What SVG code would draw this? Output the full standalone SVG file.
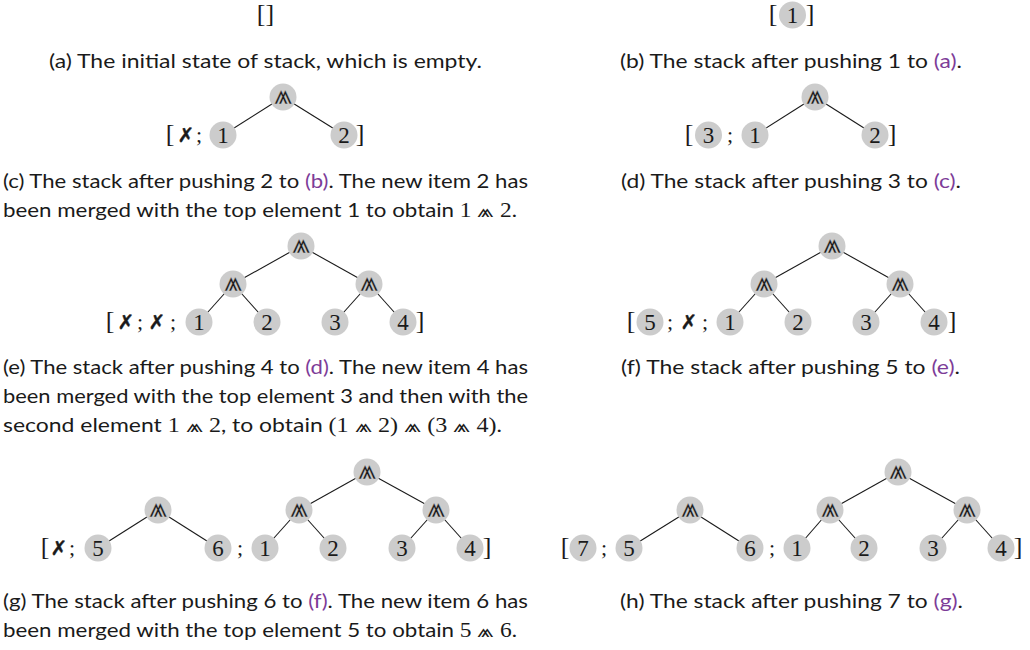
<svg xmlns="http://www.w3.org/2000/svg" width="1030" height="650" viewBox="0 0 1030 650">
<style>
.cap{font-family:Lato,"Noto Sans",sans-serif;font-size:20px;fill:#1a1a1a}
.ref{fill:#7d3c98}
.m{font-family:"Liberation Serif",serif;font-size:21px}
.op{font-family:"DejaVu Sans","DejaVu Serif",sans-serif;font-size:19px}
.nd circle{fill:#cccccc}
.num{font-family:"Liberation Serif",serif;font-size:23px;text-anchor:middle;fill:#1a1a1a}
.mg{font-family:"DejaVu Sans","DejaVu Serif",sans-serif;font-size:23px;text-anchor:middle;fill:#1a1a1a;stroke:#cccccc;stroke-width:0.25}
.br{font-family:"Liberation Serif",serif;font-size:26px;text-anchor:middle;fill:#1a1a1a}
.sc{font-family:"Liberation Serif",serif;font-size:22px;text-anchor:middle;fill:#1a1a1a}
.x{font-family:"DejaVu Sans",sans-serif;font-size:20px;text-anchor:middle;fill:#1a1a1a;stroke:#1a1a1a;stroke-width:0.4}
.edges line{stroke:#1a1a1a;stroke-width:1.1}
</style>
<defs>
  <circle id="dot" r="13.5"/>
</defs>
<rect width="1030" height="650" fill="#ffffff"/>

<!-- connectors -->
<g id="connectors" class="edges">
  <line x1="283" y1="97" x2="223" y2="135"/><line x1="283" y1="97" x2="344" y2="135"/>
  <line x1="815" y1="97" x2="755" y2="135"/><line x1="815" y1="97" x2="875" y2="135"/>
  <line x1="301" y1="246" x2="233" y2="284"/><line x1="301" y1="246" x2="369" y2="284"/>
  <line x1="233" y1="284" x2="199" y2="322"/><line x1="233" y1="284" x2="267" y2="322"/>
  <line x1="369" y1="284" x2="335" y2="322"/><line x1="369" y1="284" x2="403" y2="322"/>
  <line x1="832" y1="246" x2="764" y2="284"/><line x1="832" y1="246" x2="900" y2="284"/>
  <line x1="764" y1="284" x2="730" y2="322"/><line x1="764" y1="284" x2="798" y2="322"/>
  <line x1="900" y1="284" x2="866" y2="322"/><line x1="900" y1="284" x2="934" y2="322"/>
  <line x1="158" y1="510" x2="98" y2="548"/><line x1="158" y1="510" x2="218" y2="548"/>
  <line x1="367" y1="472" x2="299" y2="510"/><line x1="367" y1="472" x2="436" y2="510"/>
  <line x1="299" y1="510" x2="265" y2="548"/><line x1="299" y1="510" x2="333" y2="548"/>
  <line x1="436" y1="510" x2="402" y2="548"/><line x1="436" y1="510" x2="470" y2="548"/>
  <line x1="690" y1="510" x2="629" y2="548"/><line x1="690" y1="510" x2="750" y2="548"/>
  <line x1="898" y1="472" x2="830" y2="510"/><line x1="898" y1="472" x2="967" y2="510"/>
  <line x1="830" y1="510" x2="797" y2="548"/><line x1="830" y1="510" x2="864" y2="548"/>
  <line x1="967" y1="510" x2="933" y2="548"/><line x1="967" y1="510" x2="1001" y2="548"/>
</g>

<!-- (a) -->
<g id="a-stack"><text class="br" x="265.5" y="22">[]</text></g>
<text class="cap" x="265.5" y="68" text-anchor="middle" textLength="433" lengthAdjust="spacingAndGlyphs">(a) The initial state of stack, which is empty.</text>

<!-- (b) -->
<g id="b-stack">
  <text class="br" x="773" y="22">[</text>
  <text class="br" x="810" y="22">]</text>
</g>
<g id="b-n1" class="nd"><use href="#dot" x="792.5" y="15" fill="#cccccc"/><text class="num" x="792.5" y="23">1</text></g>
<text class="cap" x="620" y="68" textLength="342" lengthAdjust="spacingAndGlyphs">(b) The stack after pushing 1 to <tspan class="ref">(a)</tspan>.</text>

<!-- (c) -->
<g id="c-stack">
  <text class="br" x="170" y="142">[</text>
  <text class="x" x="186" y="142">✗</text>
  <text class="sc" x="199" y="142">;</text>
  <text class="br" x="360" y="142">]</text>
</g>
<g id="c-root" class="nd"><use href="#dot" x="283" y="97" fill="#cccccc"/><text class="mg" transform="translate(283 97) scale(1 1.33)" y="5.2">⩕</text></g>
<g id="c-n1" class="nd"><use href="#dot" x="223" y="135" fill="#cccccc"/><text class="num" x="223" y="143">1</text></g>
<g id="c-n2" class="nd"><use href="#dot" x="344" y="135" fill="#cccccc"/><text class="num" x="344" y="143">2</text></g>
<text class="cap" x="3" y="188" textLength="525" lengthAdjust="spacingAndGlyphs">(c) The stack after pushing 2 to <tspan class="ref">(b)</tspan>. The new item 2 has</text>
<text class="cap" x="3" y="217" textLength="514" lengthAdjust="spacingAndGlyphs">been merged with the top element 1 to obtain <tspan class="m">1 <tspan class="op">⩕</tspan> 2</tspan>.</text>

<!-- (d) -->
<g id="d-stack">
  <text class="br" x="689" y="142">[</text>
  <text class="sc" x="730" y="142">;</text>
  <text class="br" x="892" y="142">]</text>
</g>
<g id="d-n3" class="nd"><use href="#dot" x="708.5" y="135" fill="#cccccc"/><text class="num" x="708.5" y="143">3</text></g>
<g id="d-root" class="nd"><use href="#dot" x="815" y="97" fill="#cccccc"/><text class="mg" transform="translate(815 97) scale(1 1.33)" y="5.2">⩕</text></g>
<g id="d-n1" class="nd"><use href="#dot" x="755" y="135" fill="#cccccc"/><text class="num" x="755" y="143">1</text></g>
<g id="d-n2" class="nd"><use href="#dot" x="875" y="135" fill="#cccccc"/><text class="num" x="875" y="143">2</text></g>
<text class="cap" x="621" y="188" textLength="340" lengthAdjust="spacingAndGlyphs">(d) The stack after pushing 3 to <tspan class="ref">(c)</tspan>.</text>

<!-- (e) -->
<g id="e-stack">
  <text class="br" x="110" y="329">[</text>
  <text class="x" x="126" y="329">✗</text>
  <text class="sc" x="140" y="329">;</text>
  <text class="x" x="157" y="329">✗</text>
  <text class="sc" x="173" y="329">;</text>
  <text class="br" x="420" y="329">]</text>
</g>
<g id="e-root" class="nd"><use href="#dot" x="301" y="246" fill="#cccccc"/><text class="mg" transform="translate(301 246) scale(1 1.33)" y="5.2">⩕</text></g>
<g id="e-m12" class="nd"><use href="#dot" x="233" y="284" fill="#cccccc"/><text class="mg" transform="translate(233 284) scale(1 1.33)" y="5.2">⩕</text></g>
<g id="e-m34" class="nd"><use href="#dot" x="369" y="284" fill="#cccccc"/><text class="mg" transform="translate(369 284) scale(1 1.33)" y="5.2">⩕</text></g>
<g id="e-n1" class="nd"><use href="#dot" x="199" y="322" fill="#cccccc"/><text class="num" x="199" y="330">1</text></g>
<g id="e-n2" class="nd"><use href="#dot" x="267" y="322" fill="#cccccc"/><text class="num" x="267" y="330">2</text></g>
<g id="e-n3" class="nd"><use href="#dot" x="335" y="322" fill="#cccccc"/><text class="num" x="335" y="330">3</text></g>
<g id="e-n4" class="nd"><use href="#dot" x="403" y="322" fill="#cccccc"/><text class="num" x="403" y="330">4</text></g>
<text class="cap" x="3" y="374" textLength="525" lengthAdjust="spacingAndGlyphs">(e) The stack after pushing 4 to <tspan class="ref">(d)</tspan>. The new item 4 has</text>
<text class="cap" x="3" y="403" textLength="525" lengthAdjust="spacingAndGlyphs">been merged with the top element 3 and then with the</text>
<text class="cap" x="3" y="432" textLength="499" lengthAdjust="spacingAndGlyphs">second element <tspan class="m">1 <tspan class="op">⩕</tspan> 2</tspan>, to obtain <tspan class="m">(1 <tspan class="op">⩕</tspan> 2) <tspan class="op">⩕</tspan> (3 <tspan class="op">⩕</tspan> 4)</tspan>.</text>

<!-- (f) -->
<g id="f-stack">
  <text class="br" x="631" y="329">[</text>
  <text class="sc" x="670" y="329">;</text>
  <text class="x" x="689" y="329">✗</text>
  <text class="sc" x="705" y="329">;</text>
  <text class="br" x="952" y="329">]</text>
</g>
<g id="f-n5" class="nd"><use href="#dot" x="650" y="322" fill="#cccccc"/><text class="num" x="650" y="330">5</text></g>
<g id="f-root" class="nd"><use href="#dot" x="832" y="246" fill="#cccccc"/><text class="mg" transform="translate(832 246) scale(1 1.33)" y="5.2">⩕</text></g>
<g id="f-m12" class="nd"><use href="#dot" x="764" y="284" fill="#cccccc"/><text class="mg" transform="translate(764 284) scale(1 1.33)" y="5.2">⩕</text></g>
<g id="f-m34" class="nd"><use href="#dot" x="900" y="284" fill="#cccccc"/><text class="mg" transform="translate(900 284) scale(1 1.33)" y="5.2">⩕</text></g>
<g id="f-n1" class="nd"><use href="#dot" x="730" y="322" fill="#cccccc"/><text class="num" x="730" y="330">1</text></g>
<g id="f-n2" class="nd"><use href="#dot" x="798" y="322" fill="#cccccc"/><text class="num" x="798" y="330">2</text></g>
<g id="f-n3" class="nd"><use href="#dot" x="866" y="322" fill="#cccccc"/><text class="num" x="866" y="330">3</text></g>
<g id="f-n4" class="nd"><use href="#dot" x="934" y="322" fill="#cccccc"/><text class="num" x="934" y="330">4</text></g>
<text class="cap" x="621" y="374" textLength="339" lengthAdjust="spacingAndGlyphs">(f) The stack after pushing 5 to <tspan class="ref">(e)</tspan>.</text>

<!-- (g) -->
<g id="g-stack">
  <text class="br" x="45" y="555">[</text>
  <text class="x" x="59" y="555">✗</text>
  <text class="sc" x="72" y="555">;</text>
  <text class="sc" x="240" y="555">;</text>
  <text class="br" x="487" y="555">]</text>
</g>
<g id="g-m56" class="nd"><use href="#dot" x="158" y="510" fill="#cccccc"/><text class="mg" transform="translate(158 510) scale(1 1.33)" y="5.2">⩕</text></g>
<g id="g-n5" class="nd"><use href="#dot" x="98" y="548" fill="#cccccc"/><text class="num" x="98" y="556">5</text></g>
<g id="g-n6" class="nd"><use href="#dot" x="218" y="548" fill="#cccccc"/><text class="num" x="218" y="556">6</text></g>
<g id="g-root" class="nd"><use href="#dot" x="367" y="472" fill="#cccccc"/><text class="mg" transform="translate(367 472) scale(1 1.33)" y="5.2">⩕</text></g>
<g id="g-m12" class="nd"><use href="#dot" x="299" y="510" fill="#cccccc"/><text class="mg" transform="translate(299 510) scale(1 1.33)" y="5.2">⩕</text></g>
<g id="g-m34" class="nd"><use href="#dot" x="436" y="510" fill="#cccccc"/><text class="mg" transform="translate(436 510) scale(1 1.33)" y="5.2">⩕</text></g>
<g id="g-n1" class="nd"><use href="#dot" x="265" y="548" fill="#cccccc"/><text class="num" x="265" y="556">1</text></g>
<g id="g-n2" class="nd"><use href="#dot" x="333" y="548" fill="#cccccc"/><text class="num" x="333" y="556">2</text></g>
<g id="g-n3" class="nd"><use href="#dot" x="402" y="548" fill="#cccccc"/><text class="num" x="402" y="556">3</text></g>
<g id="g-n4" class="nd"><use href="#dot" x="470" y="548" fill="#cccccc"/><text class="num" x="470" y="556">4</text></g>
<text class="cap" x="3" y="608" textLength="525" lengthAdjust="spacingAndGlyphs">(g) The stack after pushing 6 to <tspan class="ref">(f)</tspan>. The new item 6 has</text>
<text class="cap" x="3" y="637" textLength="514" lengthAdjust="spacingAndGlyphs">been merged with the top element 5 to obtain <tspan class="m">5 <tspan class="op">⩕</tspan> 6</tspan>.</text>

<!-- (h) -->
<g id="h-stack">
  <text class="br" x="565" y="555">[</text>
  <text class="sc" x="604" y="555">;</text>
  <text class="sc" x="772" y="555">;</text>
  <text class="br" x="1018" y="555">]</text>
</g>
<g id="h-n7" class="nd"><use href="#dot" x="583" y="548" fill="#cccccc"/><text class="num" x="583" y="556">7</text></g>
<g id="h-m56" class="nd"><use href="#dot" x="690" y="510" fill="#cccccc"/><text class="mg" transform="translate(690 510) scale(1 1.33)" y="5.2">⩕</text></g>
<g id="h-n5" class="nd"><use href="#dot" x="629" y="548" fill="#cccccc"/><text class="num" x="629" y="556">5</text></g>
<g id="h-n6" class="nd"><use href="#dot" x="750" y="548" fill="#cccccc"/><text class="num" x="750" y="556">6</text></g>
<g id="h-root" class="nd"><use href="#dot" x="898" y="472" fill="#cccccc"/><text class="mg" transform="translate(898 472) scale(1 1.33)" y="5.2">⩕</text></g>
<g id="h-m12" class="nd"><use href="#dot" x="830" y="510" fill="#cccccc"/><text class="mg" transform="translate(830 510) scale(1 1.33)" y="5.2">⩕</text></g>
<g id="h-m34" class="nd"><use href="#dot" x="967" y="510" fill="#cccccc"/><text class="mg" transform="translate(967 510) scale(1 1.33)" y="5.2">⩕</text></g>
<g id="h-n1" class="nd"><use href="#dot" x="797" y="548" fill="#cccccc"/><text class="num" x="797" y="556">1</text></g>
<g id="h-n2" class="nd"><use href="#dot" x="864" y="548" fill="#cccccc"/><text class="num" x="864" y="556">2</text></g>
<g id="h-n3" class="nd"><use href="#dot" x="933" y="548" fill="#cccccc"/><text class="num" x="933" y="556">3</text></g>
<g id="h-n4" class="nd"><use href="#dot" x="1001" y="548" fill="#cccccc"/><text class="num" x="1001" y="556">4</text></g>
<text class="cap" x="620" y="608" textLength="343" lengthAdjust="spacingAndGlyphs">(h) The stack after pushing 7 to <tspan class="ref">(g)</tspan>.</text>
</svg>
